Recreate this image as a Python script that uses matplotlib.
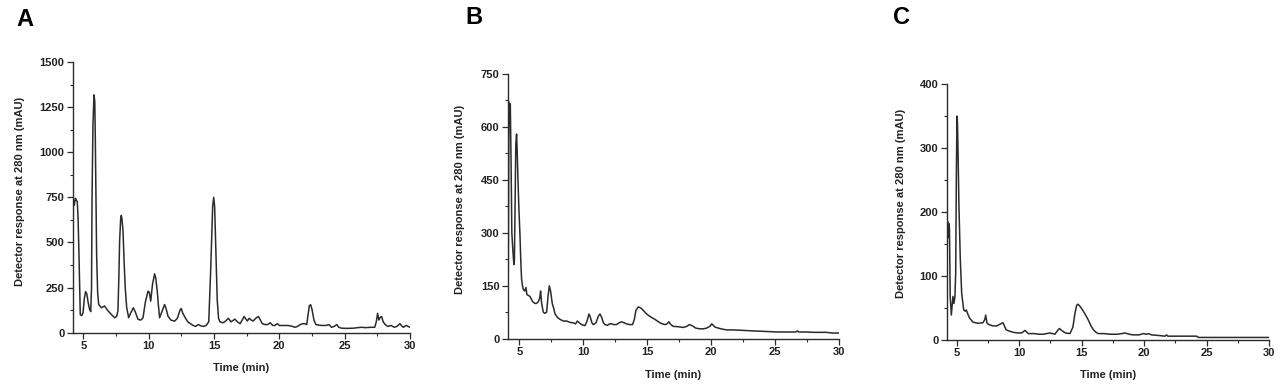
import numpy as np
import matplotlib
matplotlib.use("Agg")
from matplotlib import pyplot as plt
from matplotlib.ticker import MultipleLocator

plt.rcParams['font.family'] = ['Liberation Sans', 'DejaVu Sans']
plt.rcParams['font.weight'] = 'bold'

# chromatogram A (time in min, response in mAU)
time_a = [4.19, 4.24, 4.31, 4.39, 4.45, 4.54, 4.60, 4.67, 4.77, 4.88, 4.98, 5.08, 5.18, 5.27, 5.36,
          5.48, 5.57, 5.63, 5.67, 5.74, 5.82, 5.88, 5.92, 5.97, 6.02, 6.10, 6.18, 6.38, 6.63, 6.82,
          7.02, 7.20, 7.40, 7.55, 7.65, 7.72, 7.78, 7.86, 7.91, 7.96, 8.04, 8.12, 8.21, 8.32, 8.47,
          8.60, 8.83, 8.98, 9.19, 9.40, 9.57, 9.75, 9.95, 10.05, 10.16, 10.30, 10.46, 10.55, 10.66,
          10.75, 10.84, 10.98, 11.22, 11.35, 11.48, 11.70, 11.99, 12.20, 12.40, 12.50, 12.60, 12.80,
          13.00, 13.40, 13.60, 13.80, 14.00, 14.20, 14.40, 14.60, 14.75, 14.90, 14.98, 15.05, 15.15,
          15.25, 15.35, 15.46, 15.70, 15.90, 16.10, 16.30, 16.60, 16.80, 17.00, 17.20, 17.30, 17.45,
          17.55, 17.70, 17.85, 18.00, 18.20, 18.40, 18.55, 18.70, 18.90, 19.10, 19.30, 19.50, 19.65,
          19.85, 20.00, 20.30, 20.70, 21.00, 21.20, 21.40, 21.60, 21.80, 21.95, 22.10, 22.20, 22.30,
          22.40, 22.50, 22.65, 22.80, 23.00, 23.30, 23.55, 23.80, 24.00, 24.20, 24.40, 24.55, 24.77,
          25.20, 25.67, 26.00, 26.30, 26.60, 27.00, 27.30, 27.42, 27.52, 27.62, 27.72, 27.83, 27.95,
          28.10, 28.30, 28.55, 28.80, 29.00, 29.23, 29.40, 29.50, 29.70, 29.85, 30.00]
resp_a = [60, 735, 706, 745, 738, 725, 640, 433, 100, 95, 110, 190, 228, 215, 172,
          130, 117, 250, 745, 1150, 1318, 1280, 1078, 750, 433, 220, 156, 138, 148, 128,
          111, 97, 83, 90, 120, 300, 507, 630, 650, 630, 563, 400, 249, 140, 83,
          105, 138, 115, 74, 70, 83, 170, 230, 225, 175, 270, 326, 300, 230,
          150, 83, 110, 156, 130, 92, 70, 64, 80, 125, 134, 110, 83,
          60, 40, 35, 45, 38, 35, 40, 60, 350, 700, 750, 700, 450,
          180, 80, 60, 55, 65, 80, 60, 75, 60, 50, 75, 90, 75,
          65, 80, 70, 65, 80, 90, 70, 50, 45, 45, 55, 40, 40,
          50, 40, 40, 40, 35, 30, 35, 45, 50, 50, 45, 100, 150,
          155, 130, 70, 45, 42, 40, 40, 45, 30, 35, 45, 30, 25,
          24, 25, 28, 30, 28, 30, 30, 60, 107, 70, 85, 90, 60,
          45, 35, 40, 30, 35, 50, 35, 30, 40, 35, 30]

# chromatogram B
time_b = [4.14, 4.18, 4.22, 4.26, 4.30, 4.36, 4.42, 4.50, 4.58, 4.62, 4.68, 4.73, 4.79, 4.84, 4.90,
          4.97, 5.05, 5.12, 5.18, 5.25, 5.31, 5.42, 5.52, 5.60, 5.83, 6.05, 6.22, 6.35, 6.49, 6.60,
          6.67, 6.75, 6.88, 7.00, 7.14, 7.25, 7.35, 7.45, 7.58, 7.70, 7.80, 8.00, 8.18, 8.45, 8.70,
          9.00, 9.22, 9.40, 9.54, 9.70, 9.87, 10.14, 10.30, 10.45, 10.55, 10.68, 10.79, 11.00, 11.20,
          11.31, 11.45, 11.58, 11.70, 11.90, 12.05, 12.22, 12.40, 12.60, 12.80, 13.00, 13.20, 13.40,
          13.60, 13.86, 14.00, 14.12, 14.30, 14.45, 14.57, 14.75, 14.96, 15.15, 15.35, 15.60, 15.80,
          16.00, 16.20, 16.40, 16.55, 16.70, 16.85, 17.04, 17.40, 17.83, 18.10, 18.30, 18.45, 18.60,
          18.80, 19.13, 19.40, 19.65, 19.90, 20.05, 20.12, 20.30, 20.56, 20.90, 21.20, 21.70, 22.26,
          22.80, 23.30, 24.00, 24.60, 25.20, 25.90, 26.60, 26.75, 26.85, 27.50, 28.00, 28.50, 29.00,
          29.50, 30.00]
resp_b = [185, 550, 670, 640, 665, 500, 300, 250, 210, 220, 400, 550, 580, 530, 450,
          370, 300, 220, 170, 150, 140, 135, 145, 125, 120, 105, 100, 100, 105, 115,
          135, 100, 75, 72, 75, 120, 150, 135, 100, 85, 70, 60, 55, 50, 50,
          46, 45, 42, 50, 45, 40, 37, 50, 70, 62, 45, 40, 45, 65,
          70, 60, 45, 40, 38, 42, 42, 40, 40, 45, 48, 45, 42,
          40, 40, 55, 80, 90, 88, 85, 78, 70, 65, 60, 55, 50,
          45, 42, 40, 42, 48, 40, 35, 34, 32, 35, 40, 38, 35,
          30, 28, 28, 30, 35, 42, 40, 33, 30, 27, 25, 25, 24,
          23, 22, 21, 20, 19, 19, 19, 22, 19, 19, 18, 18, 18,
          16, 16]

# chromatogram C
time_c = [4.20, 4.27, 4.31, 4.37, 4.42, 4.48, 4.57, 4.70, 4.78, 4.86, 4.92, 4.97, 5.02, 5.06, 5.10,
          5.18, 5.29, 5.40, 5.56, 5.68, 5.77, 5.90, 6.04, 6.30, 6.70, 7.10, 7.25, 7.32, 7.43, 7.60,
          7.90, 8.20, 8.50, 8.70, 8.80, 8.95, 9.20, 9.53, 9.90, 10.20, 10.47, 10.73, 11.20, 11.60,
          11.93, 12.46, 12.86, 13.05, 13.22, 13.40, 13.70, 14.07, 14.30, 14.47, 14.60, 14.71, 14.90,
          15.14, 15.35, 15.54, 15.75, 15.94, 16.15, 16.34, 16.80, 17.27, 17.90, 18.20, 18.47, 18.80,
          19.14, 19.60, 19.94, 20.20, 20.35, 20.60, 21.20, 21.68, 21.80, 21.90, 22.50, 23.50, 24.20,
          24.34, 25.50, 27.00, 28.50, 30.00]
resp_c = [68, 185, 160, 182, 175, 68, 39, 68, 57, 68, 105, 250, 350, 340, 303,
          209, 125, 73, 47, 45, 47, 40, 34, 28, 26, 27, 32, 39, 26, 24,
          22, 22, 25, 27, 23, 16, 14, 12, 11, 11, 15, 10, 10, 9,
          9, 11, 9, 14, 18, 15, 11, 10, 20, 42, 54, 56, 52,
          45, 38, 31, 22, 16, 12, 10, 10, 9, 9, 10, 11, 9,
          8, 8, 10, 9, 10, 8, 7, 6, 8, 6, 6, 6, 6,
          4, 4, 4, 4, 4]

panel_letters = ['A', 'B', 'C']
y_max = [1500, 750, 400]
y_step = [250, 150, 100]
x_start = [4.19, 4.12, 4.2]
ylabel = 'Detector response at 280 nm (mAU)'
xlabel = 'Time (min)'

W, H = 1280, 392
fig = plt.figure(figsize=(W / 100, H / 100), dpi=100)

# axes boxes in pixels: left, top, right, bottom
boxes = [(72.7, 62, 410, 332.7), (508, 74, 839, 338.7), (946.7, 84, 1269, 340)]
letter_pos = [(25, 19), (474, 18), (901, 18)]
ylabel_xy = [(20, 191), (460, 199), (901, 203)]
xlabel_y = [368, 375, 375]

series = [(time_a, resp_a), (time_b, resp_b), (time_c, resp_c)]
dark = '#2b2b2b'

for i, (t, v) in enumerate(series):
    l, top, r, b = boxes[i]
    ax = fig.add_axes([l / W, 1 - b / H, (r - l) / W, (b - top) / H])
    ax.plot(t, v, color=dark, lw=1.1)
    ax.set_xlim(x_start[i], 30)
    ax.set_ylim(0, y_max[i])
    ax.xaxis.set_major_locator(MultipleLocator(5))
    ax.xaxis.set_minor_locator(MultipleLocator(2.5))
    ax.yaxis.set_major_locator(MultipleLocator(y_step[i]))
    ax.yaxis.set_minor_locator(MultipleLocator(y_step[i] / 2))
    for side in ['top', 'right']:
        ax.spines[side].set_visible(False)
    for side in ['left', 'bottom']:
        ax.spines[side].set_color(dark)
        ax.spines[side].set_linewidth(1.0)
    ax.tick_params(which='major', direction='out', length=4, width=0.9, color=dark,
                   labelsize=8, labelcolor='#222222', pad=2)
    ax.tick_params(which='minor', direction='out', length=2.5, width=0.8, color=dark)
    for lab in ax.get_xticklabels() + ax.get_yticklabels():
        lab.set_fontweight('bold')

    fig.text(letter_pos[i][0] / W, 1 - letter_pos[i][1] / H, panel_letters[i],
             fontsize=17, fontweight='bold', ha='center', va='center', color='black')
    fig.text(ylabel_xy[i][0] / W, 1 - ylabel_xy[i][1] / H, ylabel, rotation=90,
             fontsize=8, fontweight='bold', ha='center', va='center', color='#222222')
    fig.text(((l + r) / 2) / W, 1 - xlabel_y[i] / H, xlabel,
             fontsize=8, fontweight='bold', ha='center', va='center', color='#222222')

fig.savefig('out.png', dpi=100)
